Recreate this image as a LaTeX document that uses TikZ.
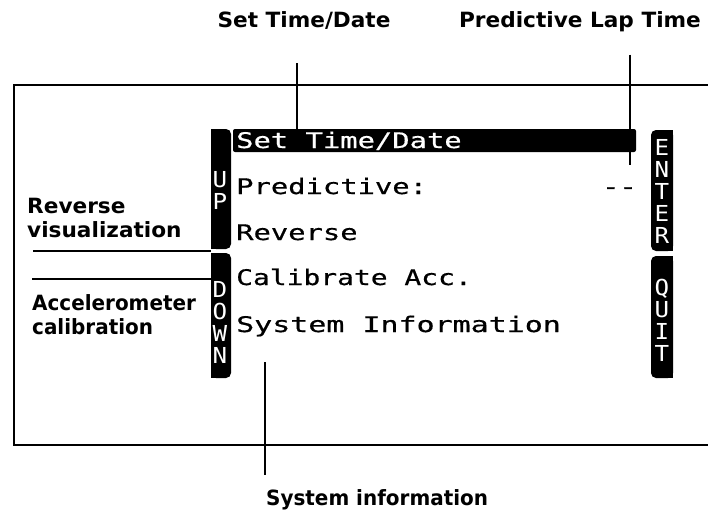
\documentclass[tikz,border=0pt]{standalone}
\usepackage{fontspec}
\usetikzlibrary{calc}
\newfontfamily\lblfont[FakeStretch=1.03]{DejaVu Sans}
\newfontfamily\lblnarrow[FakeStretch=0.95]{DejaVu Sans}
\newfontfamily\lcdfont[FakeStretch=1.34,FakeBold=0.6]{DejaVu Sans Mono}
\newfontfamily\keyfont[FakeStretch=1.1]{DejaVu Sans Mono}
\begin{document}
\begin{tikzpicture}[x=1pt,y=-1pt,
  lead/.style={line width=2pt},
  lbl/.style={font=\lblfont\bfseries\fontsize{21}{24}\selectfont, inner sep=0pt},
  lbln/.style={font=\lblnarrow\bfseries\fontsize{21}{24}\selectfont, inner sep=0pt},
  lcd/.style={font=\lcdfont\fontsize{21.5}{21}\selectfont, inner sep=0pt, anchor=base west},
  keycap/.style={font=\keyfont\fontsize{22}{22}\selectfont, text=white, align=center, inner sep=0pt},
  keybar/.style={fill=black, rounded corners=5pt},
]
\useasboundingbox (0,0) rectangle (708,516);
\fill[white] (0,0) rectangle (708,516);

% display frame, open to the right
\begin{scope}
  \clip (0,0) rectangle (708,516);
  \draw[line width=2.6pt] (14,85) rectangle (740,445);
\end{scope}

% side keys: rounded on the screen side, square on the outer side
\fill[keybar] (211,129) rectangle (231,249);
\fill (211,129) rectangle (221,249);
\fill[keybar] (211,253) rectangle (231,378);
\fill (211,253) rectangle (221,378);
\fill[keybar] (651,130) rectangle (673,251);
\fill (662,130) rectangle (673,251);
\fill[keybar] (651,256) rectangle (673,378);
\fill (662,256) rectangle (673,378);

\node[keycap] (kup)    at (220,190) {U\\P};
\node[keycap] (kdown)  at (220,322) {D\\O\\W\\N};
\node[keycap] (kenter) at (662,191) {E\\N\\T\\E\\R};
\node[keycap] (kquit)  at (662,320) {Q\\U\\I\\T};

% highlighted menu line
\fill[rounded corners=2pt] (233,129) rectangle (636,152);

% menu entries
\node[lcd, text=white] (mset) at (236,148) {Set Time/Date};
\node[lcd] (mpred) at (236,194) {Predictive:};
\node[lcd, anchor=base east] (mdash) at (637,194) {--};
\node[lcd] (mrev)  at (236,240) {Reverse};
\node[lcd] (mcal)  at (236,285) {\scalebox{0.97}[1]{Calibrate Acc.}};
\node[lcd] (msys)  at (236,332) {\scalebox{1.04}[1]{System Information}};

% callout labels
\node[lbl, anchor=base] (lset)  at (304,28) {Set Time/Date};
\node[lbl, anchor=base] (lpred) at (580,28) {Predictive Lap Time};
\node[lbl, anchor=west, align=left] (lrev) at (27,218) {Reverse\\visualization};
\node[lbln, anchor=west, align=left] (lacc) at (32,315) {Accelerometer\\calibration};
\node[lbln, anchor=base west] (lsys) at (266,505) {System information};

% leader end points
\coordinate (eset)  at (297,131);
\coordinate (epred) at (630,165);
\coordinate (erev)  at (211,251);
\coordinate (eacc)  at (214,279);
\coordinate (esys)  at (265,362);

\draw[lead] (lset.south -| eset) ++(0,33) -- (eset);
\draw[lead] (lpred.south -| epred) ++(0,22) -- (epred);
\draw[lead] (lrev.west |- erev) ++(6,0) -- (erev);
\draw[lead] (lacc.west |- eacc) -- (eacc);
\draw[lead] (lsys.north west -| esys) ++(0,-14) -- (esys);
\end{tikzpicture}
\end{document}
